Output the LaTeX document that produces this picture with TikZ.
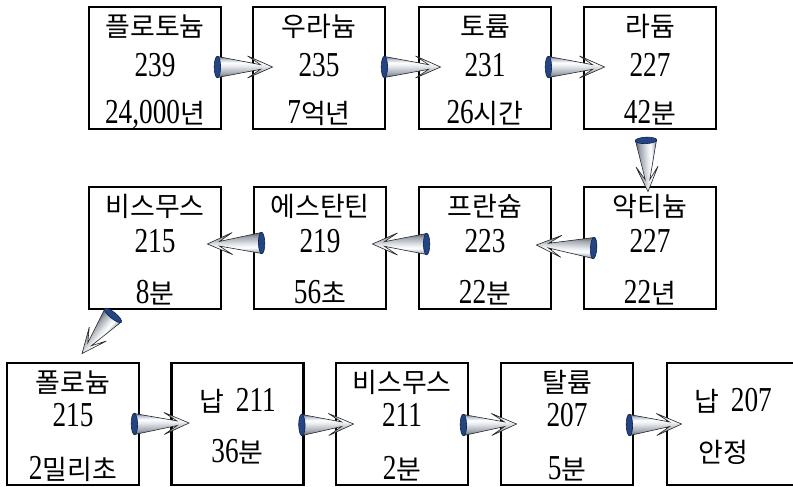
\documentclass[tikz,border=0pt]{standalone}
\usepackage{fontspec}
\setmainfont{Liberation Serif}[FakeStretch=0.78]
\newfontfamily\kr{Noto Sans CJK KR}[Scale=0.77]
\usetikzlibrary{calc}

% colours of the cone arrows
\definecolor{coneedgeb}{HTML}{565E6B}
\definecolor{conelow}{HTML}{A3A9B2}
\definecolor{conemid}{HTML}{E6E9ED}
\definecolor{conehigh}{HTML}{BAC4D2}
\definecolor{conetop}{HTML}{4E5F7C}
\definecolor{basefill}{HTML}{234583}
\definecolor{baseedge}{HTML}{0E2150}

% cross-section shading of a cone body (bottom to top)
\pgfdeclareverticalshading{conesh}{100bp}{%
  color(0bp)=(coneedgeb); color(25bp)=(coneedgeb); color(36bp)=(conelow);
  color(52bp)=(conemid); color(60bp)=(white); color(68bp)=(conehigh);
  color(75bp)=(conetop); color(100bp)=(conetop)}

\tikzset{
  box/.style={draw, line width=2.8pt, fill=white, minimum width=132pt,
    minimum height=122pt, inner sep=0pt},
  lbl/.style={anchor=base, inner sep=0pt, font=\fontsize{35}{38}\selectfont},
  conebody/.style={shade, shading=conesh, draw=black!85, line width=0.6pt,
    line join=miter},
  conebase/.style={fill=basefill, draw=baseedge, line width=0.6pt},
}

% three text lines of a decay box: node, element, mass number, half-life, baseline of mass line
\newcommand\boxlines[5]{%
  \node[lbl] (#1n) at ($(#1.north)+(0,31)$) {\kr #2};
  \node[lbl] (#1m) at ($(#1.north)+(0,#5)$) {#3};
  \node[lbl] (#1t) at ($(#1.north)+(0,118)$) {#4};}

% cone arrow from a base point to a tip point
\newcommand\conearrow[2]{%
  \path (#1) coordinate (cabase) (#2) coordinate (catip);
  \pgfpointanchor{cabase}{center}\pgfgetlastxy\cabx\caby
  \pgfpointdiff{\pgfpointanchor{cabase}{center}}{\pgfpointanchor{catip}{center}}%
  \pgfgetlastxy\cadx\cady
  \pgfmathsetmacro\caang{atan2(\cady,\cadx)}%
  \pgfmathsetmacro\calen{veclen(\cadx,\cady)}%
  \pgfmathsetmacro\caa{\calen-12}%
  \pgfmathsetmacro\cbb{\calen-25}%
  \begin{scope}[transform canvas={shift={(\cabx,\caby)},rotate=\caang}]
    \path[conebody] (0pt,10.5pt) -- (\caa pt,2.3pt) -- (\cbb pt,11pt)
      -- (\calen pt,0pt) -- (\cbb pt,-11pt) -- (\caa pt,-2.3pt)
      -- (0pt,-10.5pt) -- cycle;
    \path[conebase] (0pt,0pt) ellipse [x radius=3.2pt, y radius=10.8pt];
  \end{scope}}

\begin{document}
\begin{tikzpicture}[x=1pt,y=-1pt]
\useasboundingbox (0,0) rectangle (793,487);
\clip (0,0) rectangle (793,487);
\fill[white] (0,0) rectangle (793,487);

% first row
\node[box] (b1) at (155,68) {};
\node[box] (b2) at (319,68) {};
\node[box] (b3) at (485,68) {};
\node[box] (b4) at (650,68) {};
% second row
\node[box] (b5) at (155,248) {};
\node[box] (b6) at (320,248) {};
\node[box] (b7) at (485,248) {};
\node[box] (b8) at (650,248) {};
% third row
\node[box] (b9) at (73,424) {};
\node[box] (b10) at (237.5,424) {};
\node[box] (b11) at (402,424) {};
\node[box] (b12) at (567,424) {};
\node[box] (b13) at (733,424) {};

\boxlines{b1}{플로토늄}{239}{24,000{\kr 년}}{71}
\boxlines{b2}{우라늄}{235}{7{\kr 억년}}{71}
\boxlines{b3}{토륨}{231}{26{\kr 시간}}{71}
\boxlines{b4}{라듐}{227}{42{\kr 분}}{71}

\boxlines{b5}{비스무스}{215}{8{\kr 분}}{67}
\boxlines{b6}{에스탄틴}{219}{56{\kr 초}}{67}
\boxlines{b7}{프란슘}{223}{22{\kr 분}}{67}
\boxlines{b8}{악티늄}{227}{22{\kr 년}}{67}

\boxlines{b9}{폴로늄}{215}{2{\kr 밀리초}}{65}
\boxlines{b11}{비스무스}{211}{2{\kr 분}}{65}
\boxlines{b12}{탈륨}{207}{5{\kr 분}}{65}

\node[lbl] (b10n) at ($(b10.north)+(0,50)$) {{\kr 납}\hspace{12pt}211};
\node[lbl] (b10t) at ($(b10.north)+(0,101)$) {36{\kr 분}};
\node[lbl] (b13n) at ($(b13.north)+(0,50)$) {{\kr 납}\hspace{12pt}207};
\node[lbl] (b13t) at ($(b13.north)+(-10,101)$) {\kr 안정};

% decay arrows
\conearrow{$(b1.east)+(-5,-1)$}{$(b2.west)+(21,-1)$}
\conearrow{$(b2.east)+(-2,-1)$}{$(b3.west)+(23,-1)$}
\conearrow{$(b3.east)+(-4,-1)$}{$(b4.west)+(22,-1)$}
\conearrow{$(b4.south)+(-4,10)$}{$(b8.north)+(-2,6)$}
\conearrow{$(b8.west)+(11,0)$}{$(b7.east)+(-16,-3)$}
\conearrow{$(b7.west)+(9,-4)$}{$(b6.east)+(-15,-4)$}
\conearrow{$(b6.west)+(9,-5)$}{$(b5.east)+(-15,-4)$}
\conearrow{$(b5.south)+(-42,5)$}{$(b9.north)+(9,-8)$}
\conearrow{$(b9.east)+(-6,0)$}{$(b10.west)+(19,-1)$}
\conearrow{$(b10.east)+(-3,1)$}{$(b11.west)+(19,0)$}
\conearrow{$(b11.east)+(-6,1)$}{$(b12.west)+(17,0)$}
\conearrow{$(b12.east)+(-5,1)$}{$(b13.west)+(16,0)$}
\end{tikzpicture}
\end{document}
